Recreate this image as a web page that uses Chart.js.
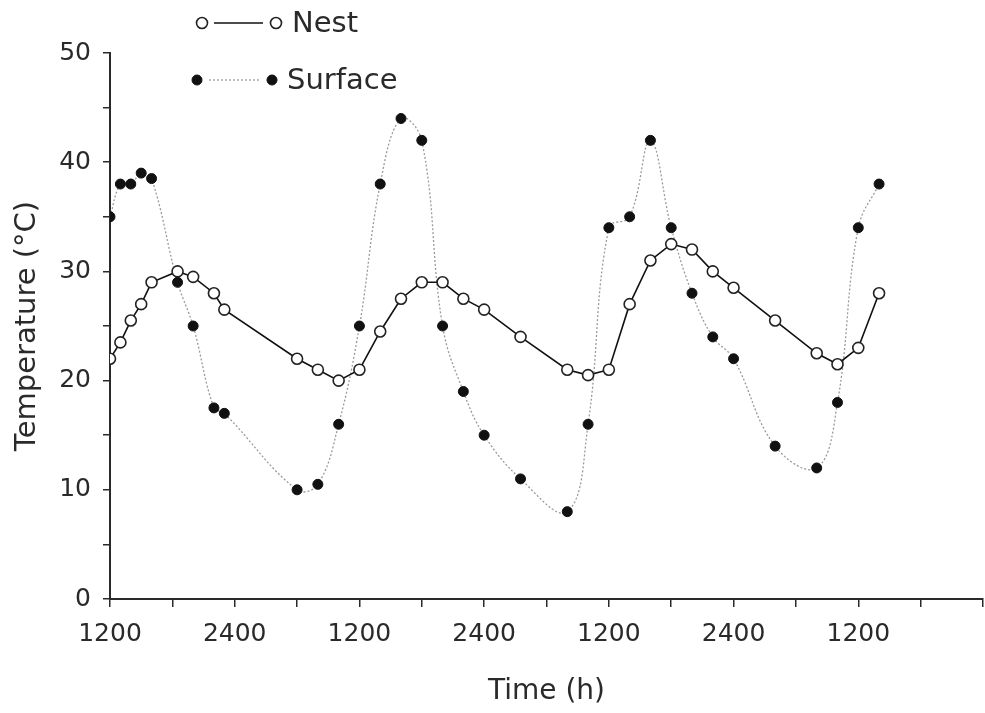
<!DOCTYPE html>
<html>
<head>
<meta charset="utf-8">
<script src="https://cdn.jsdelivr.net/npm/chart.js@4/dist/chart.umd.min.js"></script>
<style>
  html, body { margin: 0; padding: 0; background: #fff; overflow: hidden; }
  canvas { display: block; }
</style>
</head>
<body>
<canvas id="chart" width="985" height="713"></canvas>
<script>
// hours since the first 1200 reading
const hours = [0, 1, 2, 3, 4, 6.5, 8, 10, 11, 18, 20, 22, 24, 26, 28, 30, 32, 34, 36, 39.5,
               44, 46, 48, 50, 52, 54, 56, 58, 60, 64, 68, 70, 72, 74]
const nest = [22, 23.5, 25.5, 27, 29, 30, 29.5, 28, 26.5, 22, 21, 20, 21, 24.5, 27.5, 29, 29, 27.5, 26.5, 24,
              21, 20.5, 21, 27, 31, 32.5, 32, 30, 28.5, 25.5, 22.5, 21.5, 23, 28]
const surface = [35, 38, 38, 39, 38.5, 29, 25, 17.5, 17, 10, 10.5, 16, 25, 38, 44, 42, 25, 19, 15, 11,
                 8, 16, 34, 35, 42, 34, 28, 24, 22, 14, 12, 18, 34, 38]

const xTickValues = [0, 12, 24, 36, 48, 60, 72]
const xTickLabels = ['1200', '2400', '1200', '2400', '1200', '2400', '1200']

const FONT = 'DejaVu Sans'
const INK = '#2a2a2a'

// two-row legend drawn like the original figure
const legendPlugin = {
    id: 'stackedLegend',
    afterDraw(chart) {
        const ctx = chart.ctx
        const rows = [
            { ds: chart.data.datasets[0], y: 23, x1: 202, x2: 276, lx1: 214, lx2: 263, tx: 292 },
            { ds: chart.data.datasets[1], y: 80, x1: 197, x2: 272, lx1: 209, lx2: 259, tx: 287 }
        ]
        ctx.save()
        rows.forEach(r => {
            ctx.beginPath()
            ctx.setLineDash(r.ds.borderDash || [])
            ctx.strokeStyle = r.ds.borderColor
            ctx.lineWidth = r.ds.borderWidth
            ctx.moveTo(r.lx1, r.y)
            ctx.lineTo(r.lx2, r.y)
            ctx.stroke()
            ctx.setLineDash([])
            ;[r.x1, r.x2].forEach(x => {
                ctx.beginPath()
                ctx.arc(x, r.y, r.ds.pointRadius, 0, Math.PI * 2)
                ctx.fillStyle = r.ds.pointBackgroundColor
                ctx.fill()
                ctx.lineWidth = r.ds.pointBorderWidth
                ctx.strokeStyle = r.ds.pointBorderColor
                ctx.stroke()
            })
            ctx.fillStyle = INK
            ctx.font = '29px "' + FONT + '"'
            ctx.textBaseline = 'middle'
            ctx.textAlign = 'left'
            ctx.fillText(r.ds.label, r.tx, r.y + 1)
        })
        ctx.restore()
    }
}

new Chart(document.getElementById('chart'), {
    type: 'line',
    data: {
        datasets: [
            {
                label: 'Nest',
                data: hours.map((h, i) => ({ x: h, y: nest[i] })),
                borderColor: '#111',
                borderWidth: 1.6,
                tension: 0,
                pointRadius: 5.5,
                pointBackgroundColor: '#fff',
                pointBorderColor: '#222',
                pointBorderWidth: 1.6,
                order: 0
            },
            {
                label: 'Surface',
                data: hours.map((h, i) => ({ x: h, y: surface[i] })),
                borderColor: '#9a9a9a',
                borderWidth: 1.3,
                borderDash: [2, 2],
                tension: 0.4,
                pointRadius: 5,
                pointBackgroundColor: '#111',
                pointBorderColor: '#111',
                pointBorderWidth: 1,
                order: 1
            }
        ]
    },
    options: {
        responsive: false,
        animation: false,
        devicePixelRatio: 1,
        layout: { autoPadding: false, padding: { top: 53, right: 2, left: 0, bottom: 0 } },
        plugins: {
            legend: { display: false },
            tooltip: { enabled: false }
        },
        scales: {
            x: {
                type: 'linear',
                min: 0,
                max: 84,
                afterFit(scale) {
                    scale.height = 114
                    scale.paddingRight = 0
                },
                ticks: {
                    stepSize: 6,
                    autoSkip: false,
                    maxRotation: 0,
                    color: INK,
                    font: { family: FONT, size: 25 },
                    padding: 12,
                    callback: v => {
                        const i = xTickValues.indexOf(v)
                        return i === -1 ? '' : xTickLabels[i]
                    }
                },
                grid: { drawOnChartArea: false, drawTicks: true, tickLength: 8, color: INK, lineWidth: 1.5 },
                border: { color: INK, width: 2 },
                title: {
                    display: true,
                    text: 'Time (h)',
                    color: INK,
                    font: { family: FONT, size: 28 },
                    padding: { top: 0, bottom: 4 }
                }
            },
            y: {
                min: 0,
                max: 50,
                afterFit(scale) { scale.width = 110 },
                ticks: {
                    stepSize: 5,
                    color: INK,
                    font: { family: FONT, size: 25 },
                    padding: 12,
                    callback: v => (v % 10 === 0 ? v : '')
                },
                grid: { drawOnChartArea: false, drawTicks: true, tickLength: 7, color: INK, lineWidth: 1.5 },
                border: { color: INK, width: 2 },
                title: {
                    display: true,
                    text: 'Temperature (°C)',
                    color: INK,
                    font: { family: FONT, size: 29 },
                    padding: { top: 10, bottom: 0 }
                }
            }
        }
    },
    plugins: [legendPlugin]
})
</script>
</body>
</html>
